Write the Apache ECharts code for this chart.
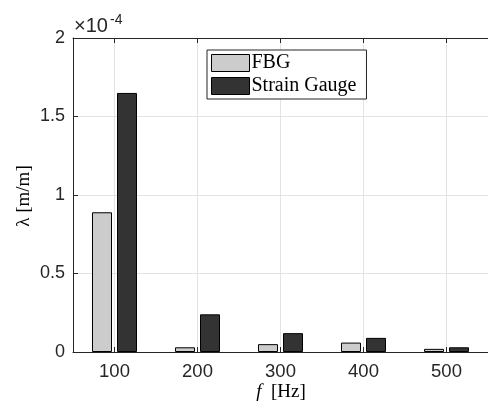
<!DOCTYPE html>
<html>
<head>
<meta charset="utf-8">
<script src="https://cdn.jsdelivr.net/npm/echarts@6/dist/echarts.min.js"></script>
<style>
  html, body { margin: 0; padding: 0; background: #ffffff; }
  #chart { width: 488px; height: 408px; }
</style>
</head>
<body>
<div id="chart"></div>
<script>
// Excitation frequencies (Hz)
const frequencies = ['100', '200', '300', '400', '500'];
// Strain amplitude, in units of 1e-4 m/m
const fbgStrain = [0.89, 0.03, 0.05, 0.06, 0.02];
const gaugeStrain = [1.65, 0.24, 0.12, 0.09, 0.03];
// Y axis range (units of 1e-4)
const yMin = 0;
const yMax = 2;
const yStep = 0.5;
const seriesNames = ['FBG', 'Strain Gauge'];

const axisColor = '#262626';
const gridColor = '#e3e3e3';
const sansFont = 'Liberation Sans';
const serifFont = 'Liberation Serif';

const chart = echarts.init(document.getElementById('chart'), null, { renderer: 'canvas' });

chart.setOption({
  animation: false,
  backgroundColor: '#ffffff',
  grid: { left: 73, top: 38, width: 417, height: 314, containLabel: false },
  legend: {
    orient: 'vertical',
    left: 207,
    top: 50,
    icon: 'rect',
    itemWidth: 38,
    itemHeight: 17,
    itemGap: 3,
    padding: [3, 10, 3, 4],
    backgroundColor: '#ffffff',
    borderColor: axisColor,
    borderWidth: 1,
    borderRadius: 0,
    itemStyle: { borderColor: '#000000', borderWidth: 1 },
    textStyle: { fontFamily: serifFont, fontSize: 20, color: '#000000', padding: [0, 0, 0, -3] },
    data: seriesNames
  },
  xAxis: [
    {
      type: 'category',
      data: frequencies,
      position: 'bottom',
      boundaryGap: true,
      axisLine: { show: true, lineStyle: { color: axisColor, width: 1 } },
      axisTick: { show: true, inside: true, alignWithLabel: true, length: 5, lineStyle: { color: axisColor } },
      axisLabel: { fontFamily: sansFont, fontSize: 18.5, color: axisColor, margin: 10 },
      splitLine: { show: true, alignWithLabel: true, lineStyle: { color: gridColor, width: 1 } }
    },
    {
      type: 'category',
      data: frequencies,
      position: 'top',
      boundaryGap: true,
      axisLine: { show: true, lineStyle: { color: axisColor, width: 1 } },
      axisTick: { show: true, inside: true, alignWithLabel: true, length: 5, lineStyle: { color: axisColor } },
      axisLabel: { show: false },
      splitLine: { show: false }
    }
  ],
  yAxis: {
    type: 'value',
    min: yMin,
    max: yMax,
    interval: yStep,
    axisLine: { show: true, lineStyle: { color: axisColor, width: 1 } },
    axisTick: { show: true, inside: true, length: 5, lineStyle: { color: axisColor } },
    axisLabel: { fontFamily: sansFont, fontSize: 18, color: axisColor, margin: 8 },
    splitLine: { show: true, lineStyle: { color: gridColor, width: 1 } }
  },
  series: [
    {
      name: seriesNames[0],
      type: 'bar',
      xAxisIndex: 0,
      data: fbgStrain,
      barWidth: 20,
      barGap: '25%',
      itemStyle: { color: '#cccccc', borderColor: '#000000', borderWidth: 1 }
    },
    {
      name: seriesNames[1],
      type: 'bar',
      xAxisIndex: 0,
      data: gaugeStrain,
      barWidth: 20,
      barGap: '25%',
      itemStyle: { color: '#333333', borderColor: '#000000', borderWidth: 1 }
    }
  ],
  graphic: [
    {
      type: 'text',
      x: 74, y: 26,
      style: { text: '×10', font: '20px ' + sansFont, fill: axisColor, verticalAlign: 'middle', align: 'left' }
    },
    {
      type: 'text',
      x: 110, y: 20,
      style: { text: '-4', font: '14px ' + sansFont, fill: axisColor, verticalAlign: 'middle', align: 'left' }
    },
    {
      type: 'text',
      x: 24, y: 196,
      rotation: Math.PI / 2,
      style: { text: 'λ [m/m]', font: '19px ' + serifFont, fill: '#000000', verticalAlign: 'middle', align: 'center' }
    },
    {
      type: 'text',
      x: 281, y: 392,
      style: {
        text: '{i|f}  [Hz]',
        font: '19px ' + serifFont,
        fill: '#000000',
        verticalAlign: 'middle',
        align: 'center',
        rich: { i: { fontFamily: serifFont, fontStyle: 'italic', fontSize: 19, fill: '#000000' } }
      }
    }
  ]
});
</script>
</body>
</html>
